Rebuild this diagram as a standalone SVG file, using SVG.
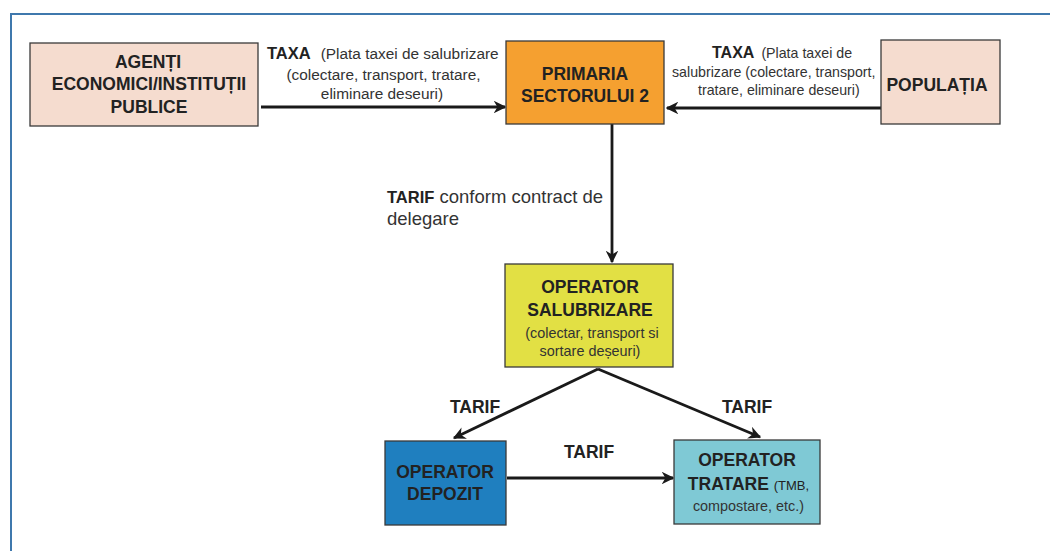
<svg xmlns="http://www.w3.org/2000/svg" width="1050" height="551" viewBox="0 0 1050 551">
<defs>
<marker id="ah" viewBox="0 0 10 10" refX="9" refY="5" markerWidth="4.5" markerHeight="4.5" orient="auto-start-reverse" markerUnits="strokeWidth">
<path d="M0,0 L10,5 L0,10 L3,5 Z" fill="#1a1a1a"/>
</marker>
<style>
.box{stroke:#3a3a3a;stroke-width:1.3}
.t{font-family:"Liberation Sans",Arial,sans-serif;font-weight:bold;font-size:17.5px;fill:#222;text-anchor:middle}
.s{font-family:"Liberation Sans",Arial,sans-serif;font-size:14.4px;fill:#333;text-anchor:middle}
.l{font-family:"Liberation Sans",Arial,sans-serif;font-size:15.4px;fill:#333}
.r{font-family:"Liberation Sans",Arial,sans-serif;font-size:14.2px;fill:#333}
.b{font-weight:bold;fill:#222}
.c{stroke:#1a1a1a;stroke-width:2.8;fill:none;marker-end:url(#ah)}
</style>
</defs>
<rect width="1050" height="551" fill="#ffffff"/>
<path d="M11,551 L11,14 L1050,14" fill="none" stroke="#3f78ad" stroke-width="2"/>
<g id="connectors">
<line class="c" x1="261" y1="107" x2="505" y2="107"/>
<line class="c" x1="881" y1="108" x2="667" y2="108"/>
<line class="c" x1="612" y1="124" x2="612" y2="262"/>
<line class="c" x1="598" y1="369" x2="454" y2="438"/>
<line class="c" x1="598" y1="369" x2="760" y2="437"/>
<line class="c" x1="507" y1="478" x2="673" y2="478"/>
</g>
<g id="labels">
<text x="267" y="59" class="l"><tspan class="b" font-size="16.5px">TAXA</tspan><tspan dx="10">(Plata taxei de salubrizare</tspan></text>
<text x="383.5" y="80" class="l" text-anchor="middle">(colectare, transport, tratare,</text>
<text x="382" y="99" class="l" text-anchor="middle">eliminare deseuri)</text>
<text x="712" y="58" class="r"><tspan class="b" font-size="16px">TAXA</tspan><tspan dx="7">(Plata taxei de</tspan></text>
<text x="672" y="77" class="r">salubrizare (colectare, transport,</text>
<text x="698" y="95" class="r">tratare, eliminare deseuri)</text>
<text x="387" y="203" font-family="Liberation Sans, Arial, sans-serif" font-size="18.5px" fill="#333"><tspan class="b" font-size="16.5px">TARIF</tspan> conform contract de</text>
<text x="387" y="225" font-family="Liberation Sans, Arial, sans-serif" font-size="18.5px" fill="#333">delegare</text>
<text x="475" y="413" class="t" font-size="17px">TARIF</text>
<text x="747" y="413" class="t" font-size="17px">TARIF</text>
<text x="589" y="458" class="t" font-size="17px">TARIF</text>
</g>
<g id="agenti">
<rect class="box" x="30" y="43" width="228" height="83" fill="#f5dccf"/>
<text x="148" y="68" class="t" font-size="17px">AGENȚI</text>
<text x="149" y="90" class="t" font-size="17px">ECONOMICI/INSTITUȚII</text>
<text x="149" y="113" class="t" font-size="17px">PUBLICE</text>
</g>
<g id="primaria">
<rect class="box" x="506" y="41" width="158" height="83" fill="#f5a030"/>
<text x="585" y="80" class="t">PRIMARIA</text>
<text x="585" y="102" class="t">SECTORULUI 2</text>
</g>
<g id="populatia">
<rect class="box" x="881" y="40" width="119" height="84" fill="#f5dccf"/>
<text x="937" y="91" class="t" font-size="18px">POPULAȚIA</text>
</g>
<g id="salubrizare">
<rect class="box" x="505" y="264" width="168" height="103" fill="#e2e044"/>
<text x="590" y="293" class="t">OPERATOR</text>
<text x="590" y="316" class="t">SALUBRIZARE</text>
<text x="592" y="338" class="s">(colectar, transport si</text>
<text x="590" y="356" class="s">sortare deșeuri)</text>
</g>
<g id="depozit">
<rect class="box" x="385" y="441" width="121" height="84" fill="#1f7fbf"/>
<text x="445" y="478" class="t">OPERATOR</text>
<text x="445" y="500" class="t">DEPOZIT</text>
</g>
<g id="tratare">
<rect class="box" x="674" y="440" width="146" height="84" fill="#7fc9d5"/>
<text x="747" y="466" class="t">OPERATOR</text>
<text x="748.5" y="490" class="t">TRATARE <tspan font-weight="normal" font-size="13px">(TMB,</tspan></text>
<text x="748.5" y="511" class="s" font-size="15px">compostare, etc.)</text>
</g>
</svg>
